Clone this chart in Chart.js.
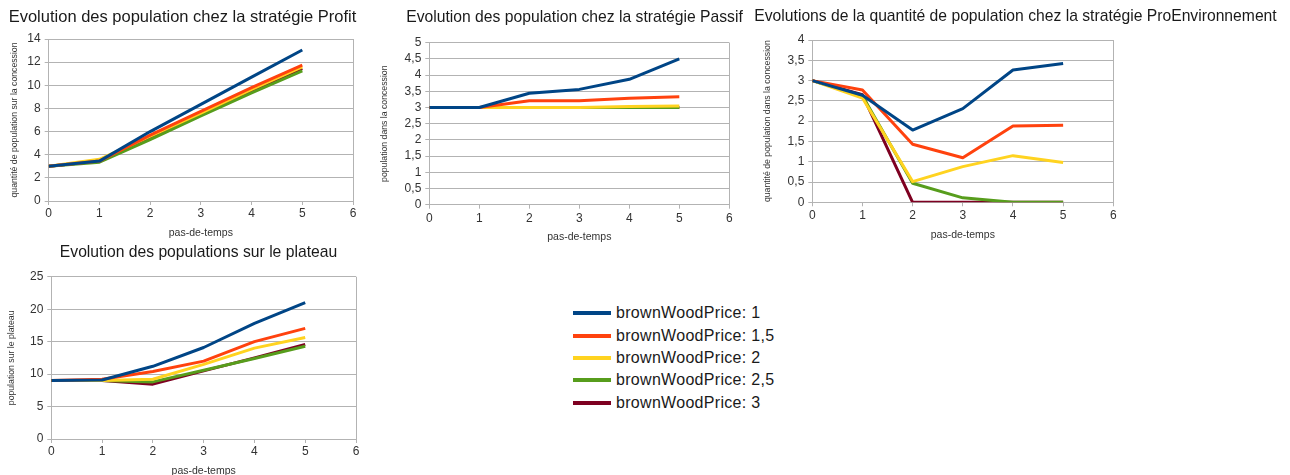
<!DOCTYPE html>
<html>
<head>
<meta charset="utf-8">
<script src="https://cdn.jsdelivr.net/npm/chart.js@4.4.1/dist/chart.umd.min.js"></script>
<style>
  html, body { margin: 0; padding: 0; background: #fff; overflow: hidden; width: 1290px; height: 475px; }
  canvas { position: absolute; }
  .row { position: absolute; left: 573px; height: 20px; display: flex; align-items: center; white-space: nowrap;
         font-family: 'Liberation Sans', Arial, sans-serif; font-size: 16px; letter-spacing: 0.3px; color: #1a1a1a; }
  .swatch { width: 38px; height: 4px; margin-right: 5px; }
</style>
</head>
<body>
<script>
const steps = [0, 1, 2, 3, 4, 5];
const xTicks = [0, 1, 2, 3, 4, 5, 6];
const seriesNames = ['brownWoodPrice: 1', 'brownWoodPrice: 1,5', 'brownWoodPrice: 2', 'brownWoodPrice: 2,5', 'brownWoodPrice: 3'];
const seriesColors = ['#004586', '#ff420e', '#ffd320', '#579d1c', '#7e0021'];

// stratégie Profit
const profit1 = [3, 3.45, 6.0, 8.35, 10.7, 13.05];
const profit15 = [3, 3.45, 5.7, 7.75, 9.8, 11.75];
const profit2 = [3, 3.6, 5.6, 7.6, 9.65, 11.6];
const profit25 = [3, 3.35, 5.3, 7.35, 9.35, 11.25];
const profit3 = [3, 3.45, 5.45, 7.45, 9.5, 11.45];
const profitTicks = [0, 2, 4, 6, 8, 10, 12, 14];

// stratégie Passif
const passif1 = [3, 3, 3.44, 3.56, 3.87, 4.5];
const passif15 = [3, 3, 3.21, 3.21, 3.29, 3.33];
const passif2 = [3, 3, 3, 3, 3.03, 3.05];
const passif25 = [3, 3, 3, 3, 3, 3];
const passif3 = [3, 3, 3, 3, 3, 3];
const passifTicks = [0, 0.5, 1, 1.5, 2, 2.5, 3, 3.5, 4, 4.5, 5];

// stratégie ProEnvironnement
const proEnv1 = [3, 2.64, 1.78, 2.31, 3.26, 3.42];
const proEnv15 = [3, 2.77, 1.43, 1.1, 1.88, 1.9];
const proEnv2 = [3, 2.57, 0.51, 0.88, 1.15, 0.98];
const proEnv25 = [3, 2.62, 0.47, 0.11, 0, 0];
const proEnv3 = [3, 2.65, 0, 0, 0, 0];
const proEnvTicks = [0, 0.5, 1, 1.5, 2, 2.5, 3, 3.5, 4];

// plateau
const plateau1 = [9, 9.1, 11.2, 14.1, 17.8, 21];
const plateau15 = [9, 9.2, 10.4, 12.0, 15.0, 17.05];
const plateau2 = [9, 9, 9.2, 11.5, 14.0, 15.65];
const plateau25 = [9, 9, 8.8, 10.6, 12.4, 14.3];
const plateau3 = [9, 9, 8.45, 10.5, 12.5, 14.55];
const plateauTicks = [0, 5, 10, 15, 20, 25];

const GRID = '#b3b3b3';
const FONT = "'Liberation Sans', Arial, sans-serif";
const fmt = v => String(v).replace('.', ',');

function drawChart(box, title, yTitle, series, yTicks) {
    const c = document.createElement('canvas');
    c.width = box.w;
    c.height = box.h;
    c.style.left = box.x + 'px';
    c.style.top = box.y + 'px';
    document.body.appendChild(c);
    new Chart(c, {
        type: 'line',
        data: {
            datasets: series.map((vals, i) => ({
                label: seriesNames[i],
                data: steps.map((s, j) => ({ x: s, y: vals[j] })),
                borderColor: seriesColors[i],
                backgroundColor: seriesColors[i],
                borderWidth: 3,
                pointRadius: 0,
                tension: 0,
                borderJoinStyle: 'round',
                fill: false
            }))
        },
        options: {
            responsive: false,
            animation: false,
            devicePixelRatio: 1,
            layout: { padding: 0 },
            plugins: {
                legend: { display: false },
                tooltip: { enabled: false },
                title: {
                    display: true, text: title, color: '#1a1a1a',
                    font: { family: FONT, size: box.ts, weight: 'normal' },
                    padding: { top: box.tp, bottom: box.tb }
                }
            },
            scales: {
                x: {
                    type: 'linear', min: 0, max: 6,
                    afterBuildTicks: s => { s.ticks = xTicks.map(v => ({ value: v })); },
                    afterFit: s => { s.height = box.xh; },
                    grid: {
                        color: ctx => (ctx.tick && ctx.tick.value === 6) ? GRID : 'rgba(0,0,0,0)',
                        tickColor: GRID, tickLength: 4
                    },
                    border: { color: GRID },
                    ticks: { color: '#333', font: { family: FONT, size: 12 }, padding: box.xp, maxRotation: 0, autoSkip: false },
                    title: {
                        display: true, text: 'pas-de-temps', color: '#333',
                        font: { family: FONT, size: 10.5 }, padding: { top: 0, bottom: box.xtb }
                    }
                },
                y: {
                    min: 0, max: yTicks[yTicks.length - 1],
                    afterBuildTicks: s => { s.ticks = yTicks.map(v => ({ value: v })); },
                    afterFit: s => { s.width = box.yw; },
                    grid: { color: GRID, tickColor: GRID, tickLength: 4 },
                    border: { color: GRID },
                    ticks: { color: '#333', font: { family: FONT, size: 12 }, padding: 4, autoSkip: false, callback: v => fmt(v) },
                    title: {
                        display: true, text: yTitle, color: '#333',
                        font: { family: FONT, size: 8.7 }, padding: { top: box.ytp, bottom: 0 }
                    }
                },
                yr: {
                    position: 'right', display: true,
                    grid: { display: false }, border: { display: false }, ticks: { display: false },
                    afterFit: s => { s.width = box.rw; }
                }
            }
        }
    });
}

drawChart({ x: 0, y: 0, w: 365, h: 245, ts: 16.5, tp: 7.1, tb: 12.1, xh: 44, xp: 1, xtb: 5.4, yw: 48.7, ytp: 9.8, rw: 12 },
    'Evolution des population chez la stratégie Profit', 'quantité de population sur la concession',
    [profit1, profit15, profit2, profit25, profit3], profitTicks);

drawChart({ x: 378, y: 0, w: 393, h: 250, ts: 15.7, tp: 7.9, tb: 16, xh: 45.3, xp: 2.4, xtb: 6.7, yw: 51.3, ytp: 1.8, rw: 41.7 },
    'Evolution des population chez la stratégie Passif', 'population dans la concession',
    [passif1, passif15, passif2, passif25, passif3], passifTicks);

drawChart({ x: 750, y: 0, w: 531, h: 248, ts: 15.7, tp: 7.3, tb: 13.9, xh: 45.7, xp: 2.2, xtb: 6.7, yw: 62.3, ytp: 12.8, rw: 167.7 },
    'Evolutions de la quantité de population chez la stratégie ProEnvironnement', 'quantité de population dans la concession',
    [proEnv1, proEnv15, proEnv2, proEnv25, proEnv3], proEnvTicks);

drawChart({ x: 0, y: 236, w: 397, h: 245, ts: 15.7, tp: 7.6, tb: 14.3, xh: 42, xp: 1.5, xtb: 4, yw: 51.3, ytp: 6.5, rw: 41 },
    'Evolution des populations sur le plateau', 'population sur le plateau',
    [plateau1, plateau15, plateau2, plateau25, plateau3], plateauTicks);

// legend
const rowCenters = [313.3, 335.7, 357.7, 380, 402.7];
seriesNames.forEach((name, i) => {
    const row = document.createElement('div');
    row.className = 'row';
    row.style.top = (rowCenters[i] - 10) + 'px';
    const sw = document.createElement('span');
    sw.className = 'swatch';
    sw.style.background = seriesColors[i];
    row.appendChild(sw);
    row.appendChild(document.createTextNode(name));
    document.body.appendChild(row);
});
</script>
</body>
</html>
